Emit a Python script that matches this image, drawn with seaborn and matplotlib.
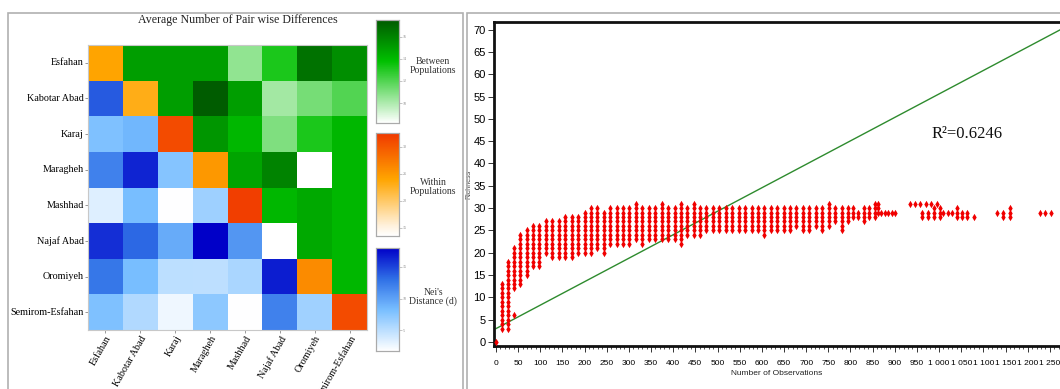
import matplotlib
matplotlib.use("Agg")
import matplotlib.pyplot as plt
import seaborn as sns
import numpy as np
import pandas as pd
from matplotlib.colors import LinearSegmentedColormap
from matplotlib.patches import Rectangle
from matplotlib.ticker import FixedLocator, MultipleLocator

# ---------------- data: heatmap ----------------
populations = ["Esfahan", "Kabotar Abad", "Karaj", "Maragheh", "Mashhad",
               "Najaf Abad", "Oromiyeh", "Semirom-Esfahan"]

# within-population values (diagonal)
within = [24.0, 23.0, 31.0, 25.0, 32.0, 13.5, 26.0, 31.0]

# between-population values (upper triangle, row i < col j)
between_rows = [
    [15.0, 15.0, 15.0, 10.6, 13.2, 16.6, 15.6],
    [15.0, 17.4, 15.0, 10.2, 11.2, 12.0],
    [15.3, 14.1, 11.0, 13.2, 14.1],
    [14.8, 16.0, 8.2, 14.1],
    [14.1, 14.6, 14.1],
    [14.6, 14.1],
    [14.1],
]

# Nei's distance (lower triangle, row i > col j)
nei_rows = [
    [14.0],
    [7.9, 8.7],
    [12.0, 16.4, 7.6],
    [3.3, 8.2, 1.8, 6.4],
    [15.9, 13.4, 9.4, 18.0, 10.7],
    [12.6, 8.2, 5.0, 4.9, 5.8, 16.7],
    [7.9, 5.5, 2.5, 7.2, 1.8, 12.0, 6.3],
]

green_ticks = [10, 12, 14, 16]
orange_ticks = [15, 20, 25, 30]
blue_ticks = [5, 10, 15]

# ---------------- data: richness scatter ----------------
col_x = [0, 13, 27, 41, 55, 69, 84, 98, 113, 127, 142, 156, 171, 185, 200, 214,
         229, 243, 258, 272, 287, 301, 316, 330, 345, 359, 374, 388, 403, 417,
         432, 446, 461, 475, 490, 504, 519, 533, 548, 562, 577, 591, 606, 620,
         635, 649, 664, 678, 693, 707, 722, 736, 751, 765, 780, 795, 806, 818,
         830, 841, 856, 863, 961, 975, 988, 1002, 1040, 1052, 1064, 1145, 1160]
col_lo = [0, 3, 3, 12, 13, 15, 17, 17, 20, 19, 19, 19, 19, 20, 20, 20,
          21, 20, 22, 22, 22, 22, 23, 22, 23, 23, 23, 23, 23, 22,
          24, 24, 24, 25, 25, 25, 25, 25, 25, 25, 25, 25, 24, 25,
          25, 25, 25, 26, 25, 25, 26, 25, 26, 27, 25, 27, 28, 28,
          27, 28, 28, 29, 28, 28, 28, 28, 28, 28, 28, 28, 28]
col_hi = [0, 13, 18, 21, 24, 25, 26, 26, 27, 27, 27, 28, 28, 28, 29, 30,
          30, 29, 30, 30, 30, 30, 31, 30, 30, 30, 31, 30, 30, 31,
          30, 31, 30, 30, 30, 30, 30, 30, 30, 30, 30, 30, 30, 30,
          30, 30, 30, 30, 30, 30, 30, 30, 31, 30, 30, 30, 30, 29,
          30, 30, 31, 31, 29, 29, 30, 30, 30, 29, 29, 29, 30]
single_x = [41, 870, 878, 885, 893, 900, 1010, 1020, 1030, 1078, 1130, 1228,
            1240, 1252, 934, 946, 958, 970, 982, 995]
single_y = [6, 29, 29, 29, 29, 29, 29, 29, 29, 28, 29, 29,
            29, 29, 31, 31, 31, 31, 31, 31]

trend_x = [0, 1280]
trend_y = [3.0, 70.3]
r2_text = "R²=0.6246"

xtick_vals = list(range(0, 1251, 50))
xtick_labels = ["0", "50", "100", "150", "200", "250", "300", "350", "400",
                "450", "500", "550", "600", "650", "700", "750", "800", "850",
                "900", "950", "1 000", "1 050", "1 100", "1 150", "1 200", "1 250"]
ytick_vals = list(range(0, 71, 5))

# ---------------- fonts ----------------
SERIF = "Liberation Serif"
SANS = "Liberation Sans"
plt.rcParams["font.family"] = [SERIF, "DejaVu Sans"]

W, H = 1060, 389
fig = plt.figure(figsize=(W / 100, H / 100), dpi=100)


def fx(px):
    return px / W


def fy(py):
    return 1 - py / H


# panel borders
fig.patches.append(Rectangle((fx(8), fy(392)), fx(463) - fx(8), fy(13) - fy(392),
                             transform=fig.transFigure, fill=False,
                             edgecolor="#b0b0b0", linewidth=1.2))
fig.patches.append(Rectangle((fx(467), fy(392)), fx(1070) - fx(467), fy(13) - fy(392),
                             transform=fig.transFigure, fill=False,
                             edgecolor="#b0b0b0", linewidth=1.2))

# ---------------- heatmap ----------------
n = len(populations)
mat_between = np.full((n, n), np.nan)
mat_nei = np.full((n, n), np.nan)
mat_within = np.full((n, n), np.nan)
for i, row in enumerate(between_rows):
    for k, v in enumerate(row):
        mat_between[i, i + 1 + k] = v
for i, row in enumerate(nei_rows):
    for j, v in enumerate(row):
        mat_nei[i + 1, j] = v
for i, v in enumerate(within):
    mat_within[i, i] = v

df_between = pd.DataFrame(mat_between, index=populations, columns=populations)
df_nei = pd.DataFrame(mat_nei, index=populations, columns=populations)
df_within = pd.DataFrame(mat_within, index=populations, columns=populations)

cm_green = LinearSegmentedColormap.from_list(
    "g", [(0, "#ffffff"), (0.6, "#00c000"), (1, "#005a00")])
cm_orange = LinearSegmentedColormap.from_list(
    "o", [(0, "#ffffff"), (0.1, "#fff1dc"), (0.55, "#ffa500"), (1, "#f03800")])
cm_blue = LinearSegmentedColormap.from_list(
    "b", [(0, "#ffffff"), (0.4, "#78beff"), (0.7, "#2f6fe6"), (1, "#0000c8")])

ax1 = fig.add_axes([fx(88), fy(330), fx(367) - fx(88), fy(45) - fy(330)])
cax_g = fig.add_axes([fx(376), fy(123), fx(399) - fx(376), fy(20) - fy(123)])
cax_o = fig.add_axes([fx(376), fy(236), fx(399) - fx(376), fy(133) - fy(236)])
cax_b = fig.add_axes([fx(376), fy(351), fx(399) - fx(376), fy(248) - fy(351)])

sns.heatmap(df_between, mask=df_between.isna(), cmap=cm_green, vmin=8.2, vmax=17.5,
            ax=ax1, cbar_ax=cax_g)
sns.heatmap(df_within, mask=df_within.isna(), cmap=cm_orange, vmin=13.5, vmax=32.5,
            ax=ax1, cbar_ax=cax_o)
sns.heatmap(df_nei, mask=df_nei.isna(), cmap=cm_blue, vmin=1.7, vmax=18,
            ax=ax1, cbar_ax=cax_b)

ax1.set_xlabel("")
ax1.set_ylabel("")
ax1.set_xticks(np.arange(n) + 0.5)
ax1.set_xticklabels(populations, rotation=60, ha="right", rotation_mode="anchor",
                    fontsize=7.3, family=[SERIF])
ax1.set_yticks(np.arange(n) + 0.5)
ax1.set_yticklabels(populations, rotation=0, fontsize=7.3, family=[SERIF])
ax1.tick_params(axis="both", length=2, width=0.6, color="#888888", pad=1)
for s in ax1.spines.values():
    s.set_visible(True)
    s.set_color("#c8c8c8")
    s.set_linewidth(0.8)

fig.text(fx(238), fy(20), "Average Number of Pair wise Differences", ha="center",
         va="center", fontsize=8.6, family=[SERIF], color="#222222")

for cax, ticks in ((cax_g, green_ticks), (cax_o, orange_ticks), (cax_b, blue_ticks)):
    cax.yaxis.set_major_locator(FixedLocator(ticks))
    cax.tick_params(labelsize=3, length=2, width=0.4, color="#999999",
                    labelcolor="#888888", pad=1)
    for s in cax.spines.values():
        s.set_visible(True)
        s.set_color("#aaaaaa")
        s.set_linewidth(0.8)

fig.text(fx(433), fy(66), "Between\nPopulations", ha="center", va="center",
         fontsize=7, family=[SERIF], color="#333333", linespacing=1.0)
fig.text(fx(433), fy(187), "Within\nPopulations", ha="center", va="center",
         fontsize=7, family=[SERIF], color="#333333", linespacing=1.0)
fig.text(fx(433), fy(297), "Nei's\nDistance (d)", ha="center", va="center",
         fontsize=7, family=[SERIF], color="#333333", linespacing=1.0)

# ---------------- richness scatter ----------------
xs, ys = [], []
for x, lo, hi in zip(col_x, col_lo, col_hi):
    for v in range(lo, hi + 1):
        xs.append(x)
        ys.append(v)
xs += single_x
ys += single_y
df_pts = pd.DataFrame({"obs": xs, "rich": ys})
df_line = pd.DataFrame({"obs": trend_x, "rich": trend_y})

ax2 = fig.add_axes([fx(494), fy(346), fx(1060) - fx(494), fy(22) - fy(346)])
sns.lineplot(data=df_line, x="obs", y="rich", ax=ax2, color="#2e8b2e", linewidth=1.0)
sns.scatterplot(data=df_pts, x="obs", y="rich", ax=ax2, color="#f00000",
                marker="d", s=14, linewidth=0, zorder=3)

ax2.set_xlim(-4.5, 1273)
ax2.set_ylim(-0.9, 71.7)
ax2.set_xticks(xtick_vals)
ax2.set_xticklabels(xtick_labels, fontsize=6.0, family=[SANS, "DejaVu Sans"])
ax2.xaxis.set_minor_locator(MultipleLocator(10))
ax2.set_yticks(ytick_vals)
ax2.set_yticklabels([str(v) for v in ytick_vals], fontsize=8,
                    family=[SANS, "DejaVu Sans"])
ax2.tick_params(axis="both", which="major", length=4, width=0.7, pad=2, color="#333333")
ax2.tick_params(axis="x", which="minor", length=2.5, width=0.6, color="#333333")
ax2.tick_params(axis="x", pad=6)
for side in ("left", "top", "bottom"):
    ax2.spines[side].set_linewidth(2.0)
    ax2.spines[side].set_color("#111111")
ax2.spines["right"].set_visible(False)
ax2.set_xlabel("Number of Observations", fontsize=6, family=[SANS, "DejaVu Sans"],
               labelpad=2, color="#222222")
ax2.set_ylabel("Richness", fontsize=5, family=[SANS, "DejaVu Sans"],
               labelpad=1, color="#444444")
ax2.text(1063, 46.5, r2_text, fontsize=12, family=[SERIF], ha="center", va="center",
         color="#111111")

fig.savefig("out.png", dpi=100)
